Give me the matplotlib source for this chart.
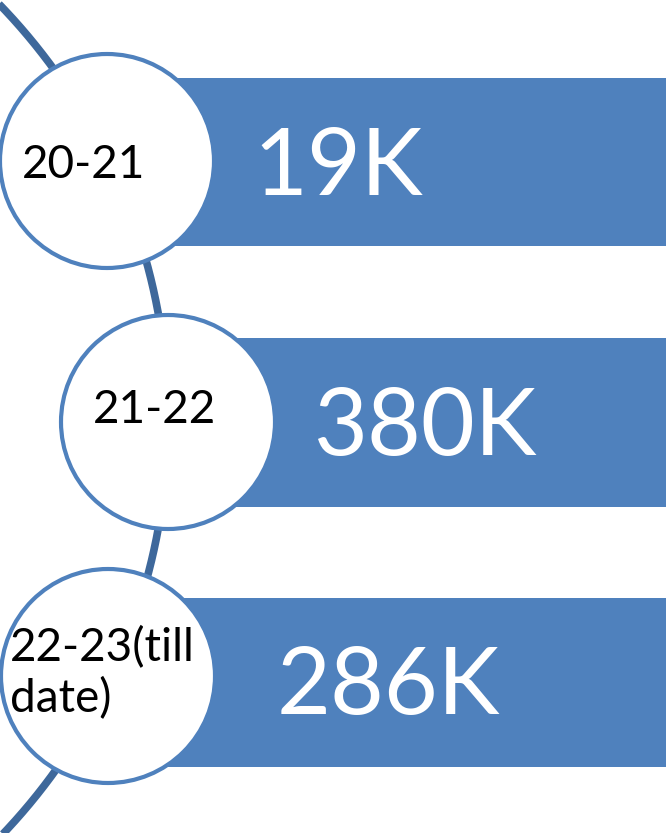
# 时间轴条形图
import numpy as np
import matplotlib
matplotlib.use("Agg")
from matplotlib import pyplot as plt
from matplotlib.patches import Circle

# 数据
periods = ["20-21", "21-22", "22-23(till\ndate)"]
values = ["19K", "380K", "286K"]

# 布局（像素坐标）
W, H = 668, 833
circle_x = [107, 168, 108]
circle_y = [161, 422, 676]
radius = 107
bar_top = [78, 338, 598]
bar_bottom = [246, 507, 767]
bar_right = 666
label_x = [22, 93, 10]
label_base = [178, 423, 712]   # 最后一行的基线
value_x = [253, 313, 277]
value_base = [195, 455, 714]

blue = "#4F81BD"
dark = "#3E689B"

plt.rcParams["font.family"] = ["Lato", "DejaVu Sans"]

fig = plt.figure(figsize=(W / 100, H / 100), dpi=100)
ax = fig.add_axes([0, 0, 1, 1])
ax.set_xlim(0, W)
ax.set_ylim(H, 0)
ax.axis("off")

# 背景弧线
arc_cx, arc_cy, arc_r = -431, 421, 599
t = np.linspace(-0.95, 0.95, 400)
ax.plot(arc_cx + arc_r * np.cos(t), arc_cy + arc_r * np.sin(t),
        color=dark, lw=5.5, solid_capstyle="butt", zorder=1)

# 条形
for i in range(len(values)):
    h = bar_bottom[i] - bar_top[i]
    ax.barh((bar_top[i] + bar_bottom[i]) / 2, bar_right - circle_x[i],
            left=circle_x[i], height=h, color=blue, zorder=2)
    ax.text(value_x[i], value_base[i], values[i], color="white",
            fontsize=67, ha="left", va="baseline", zorder=4)

# 圆圈和标签
for i in range(len(periods)):
    ax.add_patch(Circle((circle_x[i], circle_y[i]), radius, facecolor="white",
                        edgecolor=blue, lw=3, zorder=3))
    ax.text(label_x[i], label_base[i], periods[i], color="black",
            fontsize=33, ha="left", va="baseline", linespacing=1.22, zorder=4)

plt.savefig("out.png", dpi=100)
